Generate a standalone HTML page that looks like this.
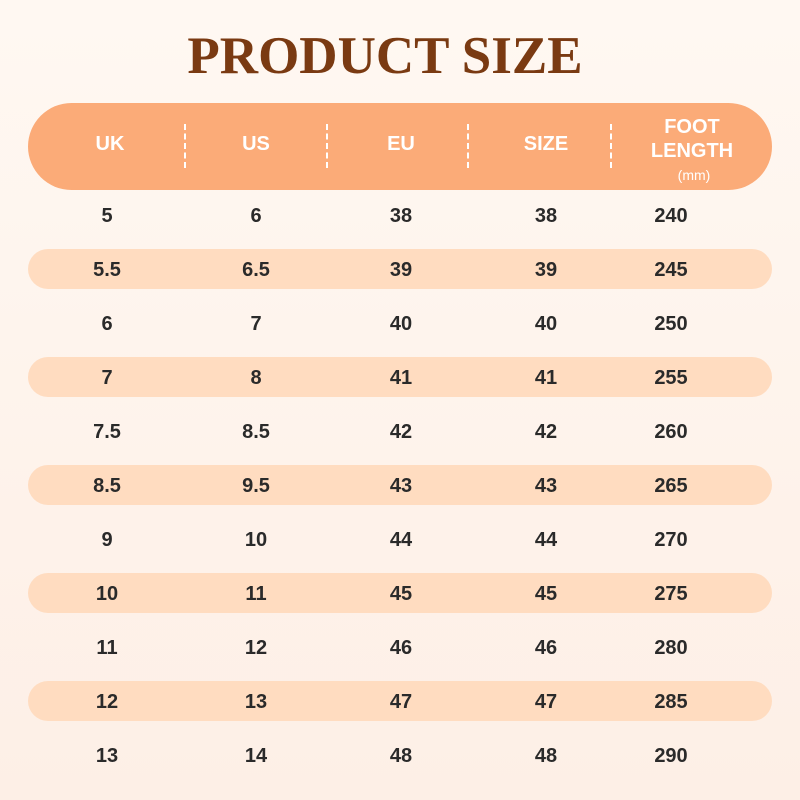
<!DOCTYPE html>
<html><head><style>
body{margin:0;width:800px;height:800px;overflow:hidden;background:linear-gradient(#fff8f2,#fdefe6);font-family:"Liberation Sans",sans-serif;position:relative}
.t{position:absolute;left:0;width:770px;top:26px;text-align:center;font-family:"Liberation Serif",serif;font-weight:bold;font-size:53px;color:#7a3a12}
.h{position:absolute;left:28px;top:103px;width:744px;height:87px;border-radius:44px;background:#fbab78}
.d{position:absolute;top:124px;height:44px;border-left:2px dashed #fff}
.ht{position:absolute;color:#fff;font-weight:bold;font-size:20px;text-align:center;width:140px;margin-left:-70px;line-height:22px}
.b{position:absolute;left:28px;width:744px;height:40px;border-radius:20px;background:#ffdcc0}
.c{position:absolute;font-weight:bold;font-size:20px;color:#2a2a2a;width:100px;margin-left:-50px;text-align:center;line-height:24px}
</style></head><body>
<div class="t">PRODUCT SIZE</div>
<div class="h"></div>
<div class="d" style="left:184px"></div><div class="d" style="left:326px"></div><div class="d" style="left:467px"></div><div class="d" style="left:610px"></div>
<div class="ht" style="left:110px;top:133px">UK</div>
<div class="ht" style="left:256px;top:133px">US</div>
<div class="ht" style="left:401px;top:133px">EU</div>
<div class="ht" style="left:546px;top:133px">SIZE</div>
<div class="ht" style="left:692px;top:115px;line-height:24px">FOOT<br>LENGTH</div>
<div class="ht" style="left:694px;top:164px;font-size:14px;font-weight:normal">(mm)</div>
<div id="rows"></div>
<script>
var d=[["5","6","38","38","240"],["5.5","6.5","39","39","245"],["6","7","40","40","250"],["7","8","41","41","255"],["7.5","8.5","42","42","260"],["8.5","9.5","43","43","265"],["9","10","44","44","270"],["10","11","45","45","275"],["11","12","46","46","280"],["12","13","47","47","285"],["13","14","48","48","290"]];
var xs=[107,256,401,546,671],h="";
d.forEach(function(r,i){var y=215+54*i;if(i%2)h+='<div class="b" style="top:'+(y-20)+'px"></div>';
r.forEach(function(v,j){h+='<div class="c" style="left:'+xs[j]+'px;top:'+(y-11)+'px">'+v+'</div>';});});
document.getElementById("rows").innerHTML=h;
</script>
</body></html>
